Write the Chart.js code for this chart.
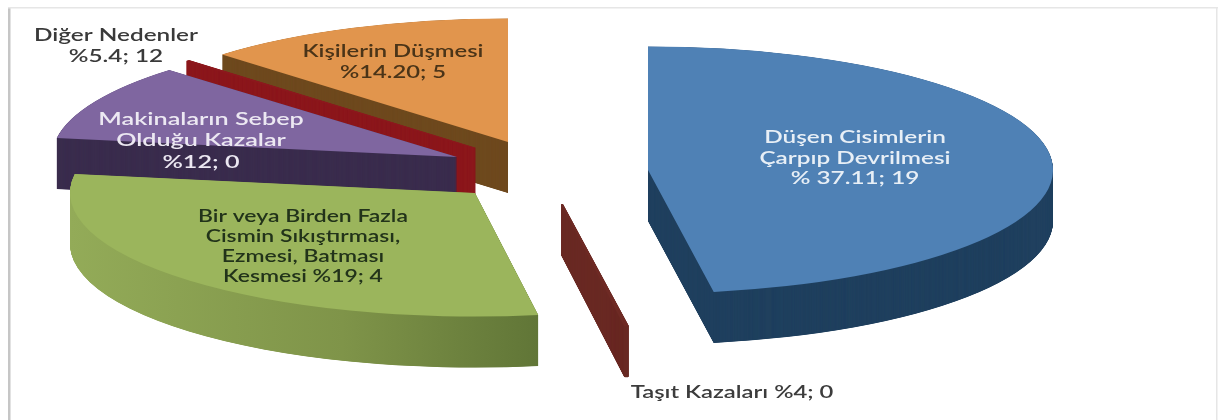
<!DOCTYPE html>
<html><head><meta charset="utf-8">
<script src="https://cdn.jsdelivr.net/npm/chart.js@4"></script>
<style>html,body{margin:0;padding:0;background:#fff;overflow:hidden}canvas{display:block;filter:blur(0.6px)}</style>
</head><body><canvas id="c" width="1218" height="420"></canvas>
<script>
// Slice order clockwise from 12 o'clock
const categories = ["Düşen Cisimlerin Çarpıp Devrilmesi","Taşıt Kazaları","Bir veya Birden Fazla Cismin Sıkıştırması, Ezmesi, Batması Kesmesi","Makinaların Sebep Olduğu Kazalar","Diğer Nedenler","Kişilerin Düşmesi"];
// Slice sizes as read from the drawn sweep of each slice
const sliceShares = [47.5, 0.1, 30, 10, 0.1, 12.5];
// Printed label text
const labelLines = [
  ["Düşen Cisimlerin","Çarpıp Devrilmesi","% 37.11; 19"],
  ["Taşıt Kazaları %4; 0"],
  ["Bir veya Birden Fazla","Cismin Sıkıştırması,","Ezmesi, Batması","Kesmesi %19; 4"],
  ["Makinaların Sebep","Olduğu Kazalar","%12; 0"],
  ["Diğer Nedenler","%5.4; 12"],
  ["Kişilerin Düşmesi","%14.20; 5"]
];
const topColors = ["#4f81b5","#6e2a24","#9bb55c","#7f66a0","#8c181d","#e1954d"];
const wallColors = ["#20405f","#6a2a24",["#93ab58","#7f9449","#556a30"],"#3b2d4e","#8c181d","#6f4a1f"];
const labelColors = ["#e8eff6","#3c3c3c","#22331a","#ece8f2","#3a3a3a","#4a3418"];
const thinEdge = [0, 2, 0, 0, 2, 0];
// Style: explosion of each slice, label anchors
const explodeX = [88, 2, -85, -103, -85, -52];
const explodeY = [0, 34, 23, -13, -22, -28];
const labelX = [855, 732, 303, 201, 116, 393];
const labelY = [138, 393, 217, 119.5, 36, 52];
const lineGap = [20.5, 0, 20, 21.5, 21, 21];
const textStretch = [1.43, 1.4, 1.35, 1.48, 1.43, 1.4];
const TILT = 0.305, DEPTH = 51;

const pie3d = {
  id: 'pie3d',
  beforeDraw(chart){
    const c = chart.ctx;
    c.save();
    c.fillStyle = '#fff'; c.fillRect(0,0,1218,420);
    c.fillStyle = '#c6c6c6'; c.fillRect(8,7,2.5,413);
    c.fillStyle = '#e6e6e6'; c.fillRect(8,7,1210,1.5); c.fillRect(1216,7,1.5,413);
    c.restore();
  },
  beforeDatasetDraw(chart, args){
    const c = chart.ctx, els = args.meta.data;
    const cy = (chart.chartArea.top + chart.chartArea.bottom)/2;
    const place = (i, d) => {
      c.translate(explodeX[i], explodeY[i] + d + cy);
      c.scale(1, TILT);
      c.translate(0, -cy);
    };
    for (let i = els.length - 1; i >= 0; i--) {
      const el = els[i], base = el.options;
      let fill = wallColors[i];
      if (Array.isArray(fill)) {
        const g = c.createLinearGradient(el.x - 405, 0, el.x + 140, 0);
        fill.forEach((s, k) => g.addColorStop(k/(fill.length-1), s));
        fill = g;
      }
      el.options = Object.assign({}, base, {backgroundColor: fill, borderColor: fill, borderWidth: thinEdge[i]});
      for (let d = DEPTH; d >= 0.25; d -= 0.25) { c.save(); place(i, d); el.draw(c); c.restore(); }
      el.options = Object.assign({}, base, {borderColor: topColors[i], borderWidth: thinEdge[i]});
      c.save(); place(i, 0); el.draw(c); c.restore();
      el.options = base;
    }
    return false;
  },
  afterDraw(chart){
    const c = chart.ctx;
    c.save();
    c.font = '600 17px Lato';
    c.textAlign = 'center'; c.textBaseline = 'middle';
    labelLines.forEach((lines, i) => {
      c.fillStyle = labelColors[i];
      lines.forEach((t, k) => {
        c.save();
        c.translate(labelX[i], labelY[i] + k*lineGap[i]);
        c.scale(textStretch[i], 1);
        c.fillText(t, 0, 0);
        c.restore();
      });
    });
    c.restore();
  }
};

new Chart(document.getElementById('c'), {
  type: 'pie',
  data: { labels: categories, datasets: [{ data: sliceShares, backgroundColor: topColors, borderWidth: 0, clip: false }] },
  options: {
    responsive: false, animation: false, radius: 405,
    layout: { padding: { right: 98, bottom: 80, left: 0, top: 0 } },
    plugins: { legend: {display:false}, tooltip: {enabled:false}, title:{display:false} }
  },
  plugins: [pie3d]
});
</script></body></html>
